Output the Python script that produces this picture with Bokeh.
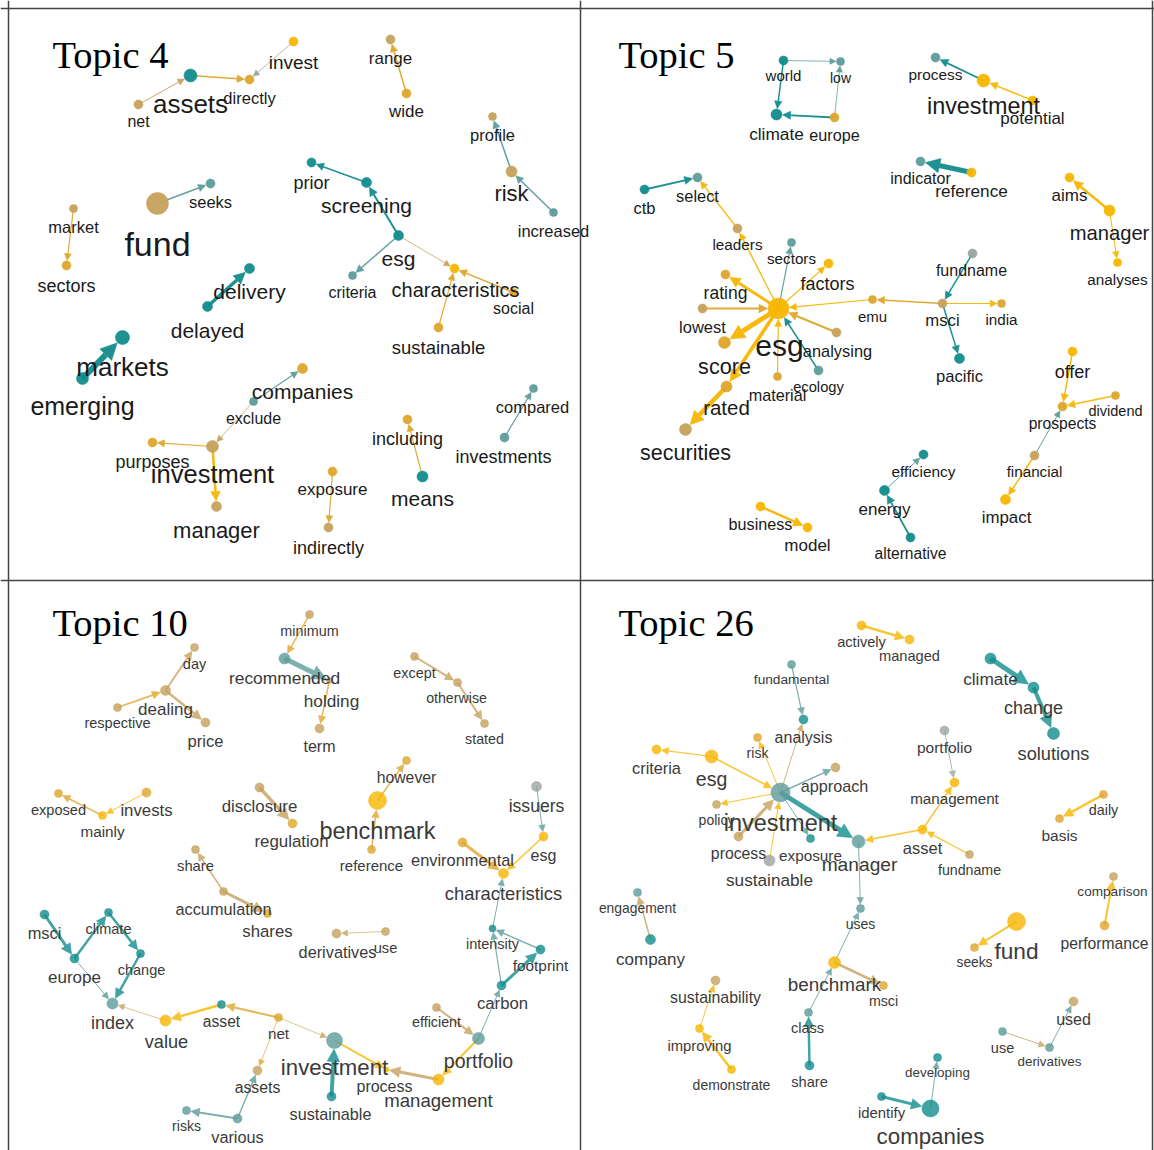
import math
from bokeh.plotting import figure
from bokeh.models import ColumnDataSource, Arrow, NormalHead, Label, Span, Range1d
from bokeh.core.properties import value, field
from bokeh.embed import file_html
from bokeh.resources import INLINE

# ---------------- Topic 4 ----------------
t4_words = ["invest", "directly", "assets", "net", "range", "wide", "profile", "risk", "increased",
            "prior", "screening", "esg", "criteria", "characteristics", "social", "sustainable",
            "seeks", "fund", "market", "sectors", "delivery", "delayed", "markets", "emerging",
            "companies", "exclude", "investment", "purposes", "manager", "including", "means",
            "exposure", "indirectly", "compared", "investments"]
t4_x = [293, 249, 190, 138, 390, 406, 492, 511, 553, 311, 366, 398, 352, 454, 513, 438, 210, 157, 73,
        66, 249, 207, 122, 82, 302, 253, 212, 152, 216, 407, 422, 332, 328, 533, 504]
t4_y = [41, 79, 75, 104, 39, 93, 116, 171, 212, 162, 182, 235, 275, 268, 292, 327, 183, 203, 208,
        265, 268, 306, 337, 378, 368, 401, 446, 442, 506, 419, 476, 471, 527, 388, 437]
t4_freq = [9, 9, 13, 9, 9, 9, 8, 11, 8, 9, 10, 10, 8, 9, 8, 9, 9, 22, 8, 9, 10, 10, 14, 12, 10, 8,
           12, 9, 10, 9, 11, 9, 9, 8, 9]
t4_tone = [5, 4, 0, 3, 3, 4, 3, 3, 1, 0, 0, 0, 1, 5, 4, 4, 1, 3, 3, 4, 0, 0, 0, 0, 4, 1, 3, 4, 3, 4,
           0, 4, 3, 1, 1]
t4_lx = [293, 249, 190, 138, 390, 406, 492, 511, 553, 311, 366, 398, 352, 455, 513, 438, 210, 157, 73,
         66, 249, 207, 122, 82, 302, 253, 212, 152, 216, 407, 422, 332, 328, 532, 503]
t4_ly = [64, 99, 105, 123, 60, 113, 136, 195, 232, 184, 207, 260, 294, 291, 310, 349, 203, 245, 228,
         287, 293, 332, 368, 407, 393, 420, 475, 463, 532, 440, 500, 491, 549, 408, 458]
t4_prom = [19, 16.5, 26, 16, 17, 17, 16.5, 22, 16.5, 18, 21, 21, 16, 20, 16, 18.5, 16.5, 34, 16.5, 18,
           21, 21, 26, 25, 21, 16, 25.5, 18, 22, 18, 21, 17, 18, 16.5, 18]
t4_from = ["net", "assets", "invest", "wide", "increased", "risk", "screening", "esg", "esg", "esg",
           "social", "sustainable", "fund", "market", "delayed", "emerging", "exclude", "exclude",
           "investment", "investment", "means", "exposure", "investments"]
t4_to = ["assets", "directly", "directly", "range", "risk", "profile", "prior", "screening", "criteria",
         "characteristics", "characteristics", "characteristics", "seeks", "sectors", "delivery",
         "markets", "companies", "investment", "purposes", "manager", "including", "indirectly", "compared"]
t4_weight = [1, 1.5, 0.8, 1.5, 1.5, 1.5, 1.5, 2, 1.5, 0.8, 1.5, 1.2, 1.5, 1.2, 3.5, 6, 1.2, 0.8, 1.2,
             2.5, 1.2, 1.2, 1.2]
t4_etone = [3, 4, 2, 4, 1, 1, 0, 0, 1, 3, 4, 4, 1, 4, 0, 0, 1, 3, 4, 5, 4, 4, 1]

# ---------------- Topic 5 ----------------
t5_words = ["world", "low", "climate", "europe", "process", "investment", "potential", "indicator",
            "reference", "ctb", "select", "aims", "manager", "analyses", "leaders", "sectors", "factors",
            "rating", "fundname", "esg", "lowest", "emu", "msci", "india", "analysing", "score",
            "ecology", "material", "pacific", "rated", "securities", "offer", "dividend", "prospects",
            "financial", "impact", "efficiency", "energy", "alternative", "business", "model"]
t5_x = [783, 840, 776, 834, 935, 983, 1032, 920, 971, 644, 697, 1069, 1109, 1117, 737, 791, 828, 725,
        972, 778, 702, 872, 942, 1001, 836, 724, 818, 777, 959, 726, 685, 1072, 1115, 1062, 1034, 1005,
        923, 884, 910, 760, 807]
t5_y = [60, 61, 114, 117, 57, 80, 100, 161, 172, 189, 177, 177, 210, 262, 228, 242, 263, 274, 253, 308,
        308, 299, 303, 303, 332, 342, 370, 376, 358, 386, 429, 351, 395, 406, 455, 499, 454, 490, 537,
        506, 527]
t5_freq = [9, 8, 11, 9, 9, 13, 9, 9, 9, 9, 9, 9, 11, 8, 9, 8, 9, 9, 9, 21, 9, 8, 9, 8, 9, 12, 9, 8, 10,
           11, 12, 9, 8, 9, 9, 10, 9, 10, 9, 9, 9]
t5_tone = [0, 1, 0, 4, 1, 5, 5, 1, 5, 0, 1, 5, 5, 5, 3, 1, 5, 4, 2, 5, 3, 4, 3, 4, 3, 4, 1, 4, 0, 4, 3,
           5, 4, 4, 3, 5, 0, 0, 0, 5, 5]
t5_lx = [783, 840, 776, 834, 935, 983, 1032, 920, 971, 644, 697, 1069, 1109, 1117, 737, 791, 827, 725,
         971, 779, 702, 872, 942, 1001, 837, 724, 818, 777, 959, 726, 685, 1072, 1115, 1062, 1034, 1006,
         923, 884, 910, 760, 807]
t5_ly = [77, 79, 135, 136, 76, 107, 120, 180, 192, 209, 197, 197, 234, 281, 246, 260, 285, 294, 272, 347,
         328, 318, 322, 321, 352, 368, 388, 396, 378, 409, 454, 373, 412, 425, 473, 519, 473, 511, 555,
         525, 547]
t5_prom = [15, 14, 17.3, 16.2, 15.4, 23.4, 17, 16, 17.2, 16.5, 16.4, 17, 20.2, 15.3, 15.3, 15.2, 18, 17.5,
           16, 30, 16.5, 15, 16.7, 15.2, 16.4, 21.6, 14.7, 16.2, 16.6, 20.5, 21.5, 18, 14.5, 15.6, 15.2,
           16.9, 15.4, 17, 15.6, 16.2, 17]
t5_from = ["world", "world", "europe", "europe", "investment", "potential", "reference", "ctb", "esg",
           "leaders", "esg", "esg", "esg", "lowest", "esg", "esg", "rated", "material", "ecology",
           "analysing", "emu", "msci", "msci", "fundname", "msci", "manager", "manager", "offer",
           "dividend", "financial", "financial", "energy", "alternative", "business"]
t5_to = ["low", "climate", "climate", "low", "process", "investment", "indicator", "select", "leaders",
         "select", "sectors", "factors", "rating", "esg", "score", "rated", "securities", "esg", "esg",
         "esg", "esg", "emu", "india", "msci", "pacific", "aims", "analyses", "prospects", "prospects",
         "prospects", "impact", "efficiency", "energy", "model"]
t5_weight = [0.8, 1.5, 1.8, 0.8, 1.8, 1.5, 5, 1.8, 1.3, 1.3, 1.2, 1.2, 3, 2, 5, 3.5, 4.5, 1.2, 1.5, 2,
             1.2, 1.5, 1.2, 1.5, 1.5, 2.5, 1, 1.5, 1.5, 1, 1.5, 1, 1.8, 2.5]
t5_etone = [1, 0, 0, 1, 0, 5, 0, 0, 5, 5, 1, 5, 5, 4, 5, 5, 5, 5, 0, 4, 5, 4, 5, 0, 0, 5, 5, 5, 5, 1,
            5, 1, 0, 5]

# ---------------- Topic 10 ----------------
t10_words = ["minimum", "recommended", "holding", "term", "day", "dealing", "respective", "price",
             "except", "otherwise", "stated", "exposed", "mainly", "invests", "disclosure", "regulation",
             "however", "benchmark", "reference", "issuers", "esg", "environmental", "characteristics",
             "share", "accumulation", "shares", "derivatives", "use", "msci", "climate", "europe",
             "change", "index", "value", "asset", "net", "investment", "assets", "risks", "various",
             "sustainable", "process", "management", "portfolio", "efficient", "carbon", "footprint",
             "intensity"]
t10_x = [309, 284, 329, 319, 194, 165, 117, 205, 414, 457, 484, 58, 102, 146, 259, 292, 406, 377, 371,
         536, 543, 462, 503, 195, 223, 267, 336, 385, 44, 108, 74, 140, 112, 165, 221, 278, 334, 257,
         186, 237, 331, 386, 438, 478, 436, 501, 540, 492]
t10_y = [614, 658, 680, 728, 647, 690, 707, 722, 656, 682, 723, 793, 815, 792, 787, 823, 760, 800, 849,
         786, 836, 842, 873, 849, 891, 913, 933, 931, 914, 912, 958, 953, 1003, 1020, 1004, 1017, 1040,
         1070, 1110, 1118, 1096, 1069, 1079, 1038, 1007, 985, 949, 928]
t10_freq = [8, 11, 6, 9, 8, 10, 8, 9, 8, 8, 8, 8, 8, 9, 9, 9, 8, 18, 8, 10, 9, 9, 10, 8, 8, 8, 9, 8, 9,
            8, 9, 8, 11, 11, 8, 8, 16, 9, 8, 9, 9, 5, 11, 12, 8, 9, 9, 7]
t10_tone = [3, 1, 3, 3, 3, 3, 3, 3, 3, 3, 3, 4, 5, 4, 3, 4, 4, 5, 4, 2, 5, 4, 5, 3, 3, 4, 3, 3, 0, 0, 0,
            0, 1, 5, 0, 4, 1, 3, 1, 1, 0, 5, 5, 1, 3, 0, 0, 0]
t10_lx = [309, 284, 331, 319, 194, 165, 117, 205, 414, 456, 484, 58, 102, 146, 259, 291, 406, 377, 371,
          536, 543, 462, 503, 195, 223, 267, 337, 385, 44, 108, 74, 141, 112, 166, 221, 278, 334, 257,
          186, 237, 330, 384, 438, 478, 436, 502, 540, 492]
t10_ly = [632, 679, 702, 748, 665, 711, 724, 742, 674, 699, 740, 811, 833, 812, 808, 843, 779, 832, 867,
          807, 857, 861, 895, 867, 910, 933, 953, 949, 934, 930, 979, 971, 1024, 1043, 1023, 1035, 1069,
          1089, 1127, 1138, 1115, 1088, 1102, 1062, 1023, 1005, 967, 945]
t10_prom = [14.4, 17.4, 17.2, 16, 14.5, 17, 14.5, 16.5, 14.4, 14.2, 14.3, 14.6, 15.3, 16.8, 16.8, 16.9,
            15.8, 23.5, 15, 17.6, 16, 16.4, 18.4, 14.8, 16.3, 16.8, 16.3, 14.7, 16.4, 14.5, 17, 14.5, 18,
            18.2, 15.6, 15.2, 22.2, 15.8, 14, 16.3, 16.2, 16, 18.6, 19.5, 14.3, 16.7, 15.4, 14.5]
t10_from = ["minimum", "recommended", "holding", "dealing", "respective", "dealing", "except", "otherwise",
            "mainly", "invests", "disclosure", "benchmark", "reference", "issuers", "esg", "environmental",
            "intensity", "accumulation", "accumulation", "use", "msci", "europe", "climate", "change",
            "europe", "value", "asset", "net", "net", "net", "various", "various", "sustainable",
            "investment", "management", "portfolio", "efficient", "portfolio", "carbon", "carbon",
            "footprint"]
t10_to = ["recommended", "holding", "term", "day", "dealing", "price", "otherwise", "stated", "exposed",
          "mainly", "regulation", "however", "benchmark", "esg", "characteristics", "characteristics",
          "characteristics", "share", "shares", "derivatives", "europe", "climate", "change", "index",
          "index", "index", "value", "asset", "investment", "assets", "assets", "risks", "investment",
          "process", "process", "management", "portfolio", "carbon", "footprint", "intensity", "intensity"]
t10_weight = [1.5, 5, 1.5, 1.8, 1.8, 2.5, 2, 2, 1.5, 1, 3.5, 1.5, 1.5, 1, 1.5, 3, 1, 1.5, 3, 0.8, 3,
              2.5, 2.5, 2.5, 1, 0.8, 2.5, 2, 0.8, 0.8, 1.5, 2, 4, 2, 3, 2, 2, 1, 3, 1.2, 1.5]
t10_etone = [4, 1, 4, 3, 4, 3, 3, 3, 4, 5, 3, 4, 4, 1, 5, 4, 1, 3, 3, 3, 0, 0, 0, 0, 1, 3, 5, 4, 3, 4,
             1, 1, 0, 5, 3, 5, 3, 1, 0, 1, 1]

# ---------------- Topic 26 ----------------
t26_words = ["actively", "managed", "climate", "change", "solutions", "fundamental", "analysis", "risk",
             "criteria", "esg", "approach", "investment", "policy", "process", "exposure", "sustainable",
             "manager", "portfolio", "management", "asset", "fundname", "daily", "basis", "engagement",
             "company", "uses", "benchmark", "msci", "sustainability", "class", "improving",
             "demonstrate", "share", "fund", "seeks", "comparison", "performance", "used", "use",
             "derivatives", "developing", "identify", "companies"]
t26_x = [861, 909, 990, 1033, 1053, 791, 803, 757, 656, 711, 835, 780, 716, 738, 810, 769, 858, 944, 954,
         922, 969, 1103, 1059, 637, 650, 860, 834, 883, 715, 808, 699, 731, 809, 1016, 974, 1113, 1104,
         1073, 1002, 1049, 937, 881, 930]
t26_y = [625, 639, 658, 687, 733, 664, 719, 737, 749, 756, 767, 792, 804, 836, 838, 860, 841, 730, 782,
         829, 854, 794, 818, 892, 939, 908, 962, 985, 980, 1012, 1028, 1069, 1065, 921, 947, 876, 925,
         1001, 1031, 1047, 1057, 1096, 1108]
t26_freq = [9, 9, 11, 11, 12, 8, 9, 8, 9, 13, 9, 19, 8, 9, 8, 11, 13, 9, 9, 9, 8, 8, 8, 8, 10, 8, 12, 8,
            9, 8, 8, 8, 9, 18, 8, 8, 9, 9, 8, 8, 8, 8, 17]
t26_tone = [5, 5, 0, 0, 0, 1, 0, 4, 5, 5, 3, 1, 3, 3, 0, 2, 1, 2, 5, 5, 3, 4, 4, 1, 0, 1, 5, 4, 3, 1, 5,
            5, 0, 5, 4, 3, 4, 3, 1, 1, 0, 0, 0]
t26_lx = [861, 909, 990, 1033, 1053, 791, 803, 757, 656, 711, 834, 780, 716, 738, 810, 769, 859, 944, 954,
          922, 969, 1103, 1059, 637, 650, 860, 834, 883, 715, 807, 699, 731, 809, 1016, 974, 1112, 1104,
          1073, 1002, 1049, 937, 881, 930]
t26_ly = [643, 657, 680, 709, 755, 681, 739, 754, 769, 780, 787, 824, 821, 855, 857, 881, 866, 749, 800,
          849, 871, 811, 837, 909, 961, 925, 986, 1002, 999, 1029, 1047, 1086, 1083, 952, 964, 893, 945,
          1021, 1049, 1063, 1074, 1114, 1138]
t26_prom = [14.6, 14.6, 17.3, 18, 18.2, 13.7, 16, 14, 16.3, 19.5, 16.2, 23.5, 14, 15.8, 15.3, 17.2, 19.2,
            15.5, 15.2, 16.5, 14.2, 14.4, 15.5, 13.9, 17, 14, 18.9, 14.2, 15.9, 14.6, 14.8, 14, 14.6,
            22.7, 13.8, 13.6, 15.7, 16, 14.5, 13.4, 13.4, 14.9, 22.3]
t26_from = ["actively", "climate", "change", "fundamental", "investment", "investment", "esg", "esg",
            "investment", "investment", "process", "sustainable", "investment", "investment", "asset",
            "asset", "portfolio", "fundname", "daily", "manager", "benchmark", "benchmark", "class",
            "share", "company", "improving", "demonstrate", "fund", "performance", "use", "derivatives",
            "identify", "companies"]
t26_to = ["managed", "change", "solutions", "analysis", "analysis", "risk", "criteria", "investment",
          "approach", "policy", "investment", "investment", "exposure", "manager", "manager", "management",
          "management", "asset", "basis", "uses", "uses", "msci", "benchmark", "class", "engagement",
          "sustainability", "improving", "seeks", "comparison", "derivatives", "used", "companies",
          "developing"]
t26_weight = [2.5, 5, 4, 1.2, 1, 1, 1.2, 1.5, 1.5, 1, 3, 1, 1, 5, 1.5, 1.5, 1, 1.2, 2.5, 1, 1, 2.5, 1,
              2.5, 1.5, 1, 2.5, 2, 2, 1, 1, 3, 1]
t26_etone = [5, 0, 0, 1, 3, 5, 5, 5, 1, 5, 3, 5, 1, 0, 5, 5, 2, 5, 5, 1, 1, 3, 1, 0, 3, 5, 5, 5, 5, 3,
             1, 0, 1]

titles = ["Topic 4", "Topic 5", "Topic 10", "Topic 26"]

# ---------------- styling ----------------
PALETTE = ["#128c8c", "#5e9b9b", "#9aa5a3", "#c6a15c", "#dea52c", "#f7b500"]
FONT = "Liberation Sans"

p = figure(width=1154, height=1150, x_range=Range1d(0, 1154), y_range=Range1d(1150, 0),
           output_backend="svg", toolbar_location=None, min_border=0,
           x_axis_type=None, y_axis_type=None)
p.grid.grid_line_color = None
p.outline_line_color = None
p.background_fill_color = "white"


def draw_topic(words, nx, ny, freq, tone, lx, ly, prom, e_from, e_to, e_w, e_tone, alpha, text_color):
    idx = {w: i for i, w in enumerate(words)}
    x0, y0, x1, y1, col, wid, hs = [], [], [], [], [], [], []
    for s, d, w, t in zip(e_from, e_to, e_w, e_tone):
        i, j = idx[s], idx[d]
        dx, dy = nx[j] - nx[i], ny[j] - ny[i]
        L = math.hypot(dx, dy) or 1.0
        r = freq[j] / 2.0 + 0.5
        x0.append(nx[i]); y0.append(ny[i])
        x1.append(nx[j] - dx / L * r); y1.append(ny[j] - dy / L * r)
        col.append(PALETTE[t]); wid.append(w); hs.append(4.5 + 2.0 * w)
    esrc = ColumnDataSource(dict(x0=x0, y0=y0, x1=x1, y1=y1, c=col, w=wid, hs=hs))
    head = NormalHead(size=field("hs"), fill_color=field("c"), line_color=field("c"),
                      fill_alpha=alpha, line_alpha=alpha, line_width=0.5)
    p.add_layout(Arrow(end=head, x_start="x0", y_start="y0", x_end="x1", y_end="y1",
                       line_color=field("c"), line_width=field("w"), line_alpha=alpha,
                       source=esrc, level="underlay"))
    nsrc = ColumnDataSource(dict(x=nx, y=ny, s=freq, c=[PALETTE[t] for t in tone]))
    p.scatter(x="x", y="y", size="s", fill_color="c", line_color="c", line_alpha=alpha * 0.6,
              fill_alpha=alpha, source=nsrc)
    lsrc = ColumnDataSource(dict(x=lx, y=ly, t=words, fs=[f"{v}px" for v in prom]))
    p.text(x="x", y="y", text="t", text_font_size="fs", text_font=value(FONT),
           text_color=text_color, text_align="center", text_baseline="middle",
           y_offset=-2, source=lsrc)


draw_topic(t4_words, t4_x, t4_y, t4_freq, t4_tone, t4_lx, t4_ly, t4_prom,
           t4_from, t4_to, t4_weight, t4_etone, 0.95, "#1a1a1a")
draw_topic(t5_words, t5_x, t5_y, t5_freq, t5_tone, t5_lx, t5_ly, t5_prom,
           t5_from, t5_to, t5_weight, t5_etone, 0.95, "#1a1a1a")
draw_topic(t10_words, t10_x, t10_y, t10_freq, t10_tone, t10_lx, t10_ly, t10_prom,
           t10_from, t10_to, t10_weight, t10_etone, 0.8, "#3a3a3a")
draw_topic(t26_words, t26_x, t26_y, t26_freq, t26_tone, t26_lx, t26_ly, t26_prom,
           t26_from, t26_to, t26_weight, t26_etone, 0.8, "#3a3a3a")

for txt, (tx, ty) in zip(titles, [(52, 54), (618, 54), (52, 622), (618, 622)]):
    p.add_layout(Label(x=tx, y=ty, text=txt, text_font="Liberation Serif", text_font_size="38.5px",
                       text_color="black", text_align="left", text_baseline="alphabetic"))

for loc in (8, 580, 1152):
    p.add_layout(Span(location=loc, dimension="height", line_color="#444444", line_width=1.5))
for loc in (8, 580):
    p.add_layout(Span(location=loc, dimension="width", line_color="#444444", line_width=1.5))

open("out.html", "w").write(file_html(p, INLINE))
